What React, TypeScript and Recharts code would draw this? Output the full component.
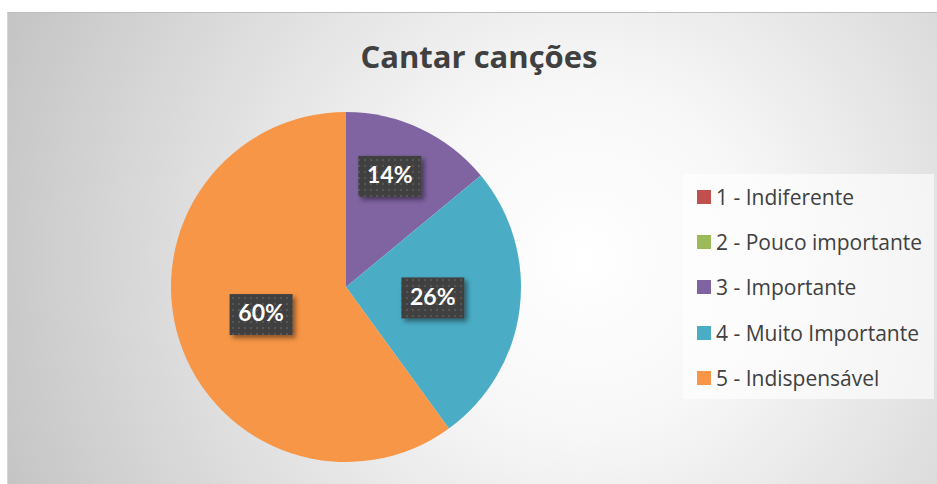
import React from "react";
import { PieChart, Pie, Cell, Legend } from "recharts";

const categories = [
  "1 - Indiferente",
  "2 - Pouco importante",
  "3 - Importante",
  "4 - Muito Importante",
  "5 - Indispensável",
];
const values = [0, 0, 14, 26, 60];
const colors = ["#c0504d", "#9bbb59", "#8064a2", "#4bacc6", "#f79646"];
const title = "Cantar canções";

const data = categories.map((name, i) => ({ name, value: values[i] }));

// label placement (best-fit style): share of radius and small angle nudge
const labelRadius = [0.6, 0.6, 0.68, 0.5, 0.51];
const labelNudge = [0, 0, 3.6, 0, 0];

const RADIAN = Math.PI / 180;

function DataLabel(props: any) {
  const { cx, cy, midAngle, outerRadius, index, value } = props;
  if (!value) return null;
  const r = outerRadius * labelRadius[index];
  const a = (midAngle + labelNudge[index]) * RADIAN;
  const x = cx + r * Math.cos(-a);
  const y = cy + r * Math.sin(-a);
  const w = 63;
  const h = 41;
  return (
    <g>
      <rect
        x={x - w / 2}
        y={y - h / 2}
        width={w}
        height={h}
        fill="url(#dots)"
        filter="url(#shadow)"
      />
      <text
        x={x}
        y={y + 1}
        textAnchor="middle"
        dominantBaseline="middle"
        fill="#ffffff"
        fontFamily="Lato, sans-serif"
        fontWeight={700}
        fontSize={23}
      >
        {value}%
      </text>
    </g>
  );
}

function LegendBox() {
  return (
    <div
      style={{
        width: 251,
        height: 225,
        background: "rgba(255,255,255,0.62)",
        fontFamily: "'Open Sans', sans-serif",
        fontSize: 21,
        color: "#404040",
      }}
    >
      {categories.map((c, i) => (
        <div
          key={c}
          style={{
            display: "flex",
            alignItems: "center",
            height: 45.3,
            paddingLeft: 14,
            whiteSpace: "nowrap",
          }}
        >
          <span
            style={{
              width: 14,
              height: 14,
              background: colors[i],
              marginRight: 5,
              display: "inline-block",
              flex: "none",
            }}
          />
          <span>{c}</span>
        </div>
      ))}
    </div>
  );
}

export default function App() {
  return (
    <div style={{ position: "absolute", left: 0, top: 0, width: 937, height: 484, background: "#fff" }}>
      <div
        style={{
          position: "absolute",
          left: 7,
          top: 12,
          width: 930,
          height: 472,
          borderTop: "1px solid #bdbdbd",
          borderLeft: "1px solid #d6d6d6",
          boxSizing: "border-box",
          background:
            "radial-gradient(circle at 62% 52%, #ffffff 0%, #f7f7f7 28%, #e2e2e2 58%, #c4c4c4 100%)",
        }}
      >
        <div
          style={{
            position: "absolute",
            left: 6,
            top: 22,
            width: 930,
            textAlign: "center",
            fontFamily: "'Open Sans', sans-serif",
            fontWeight: 700,
            fontSize: 31,
            color: "#404040",
          }}
        >
          {title}
        </div>
        <div style={{ position: "absolute", left: 0, top: 0 }}>
          <PieChart width={929} height={471} margin={{ top: 0, right: 0, bottom: 0, left: 0 }}>
            <defs>
              <pattern id="dots" width="6" height="6" patternUnits="userSpaceOnUse">
                <rect width="6" height="6" fill="#3f3f3f" />
                <rect x="2" y="2" width="2" height="2" fill="#575757" />
              </pattern>
              <filter id="shadow" x="-20%" y="-20%" width="150%" height="160%">
                <feDropShadow dx="3" dy="3" stdDeviation="2.5" floodColor="#000" floodOpacity="0.45" />
              </filter>
            </defs>
            <Pie
              data={data}
              dataKey="value"
              nameKey="name"
              cx={338}
              cy={274}
              outerRadius={175}
              startAngle={90}
              endAngle={-270}
              stroke="none"
              labelLine={false}
              label={DataLabel}
              isAnimationActive={false}
            >
              {data.map((_, i) => (
                <Cell key={`cell-${i}`} fill={colors[i]} />
              ))}
            </Pie>
            <Legend
              content={() => <LegendBox />}
              wrapperStyle={{ position: "absolute", left: 675, top: 161, width: 251 }}
            />
          </PieChart>
        </div>
      </div>
    </div>
  );
}
